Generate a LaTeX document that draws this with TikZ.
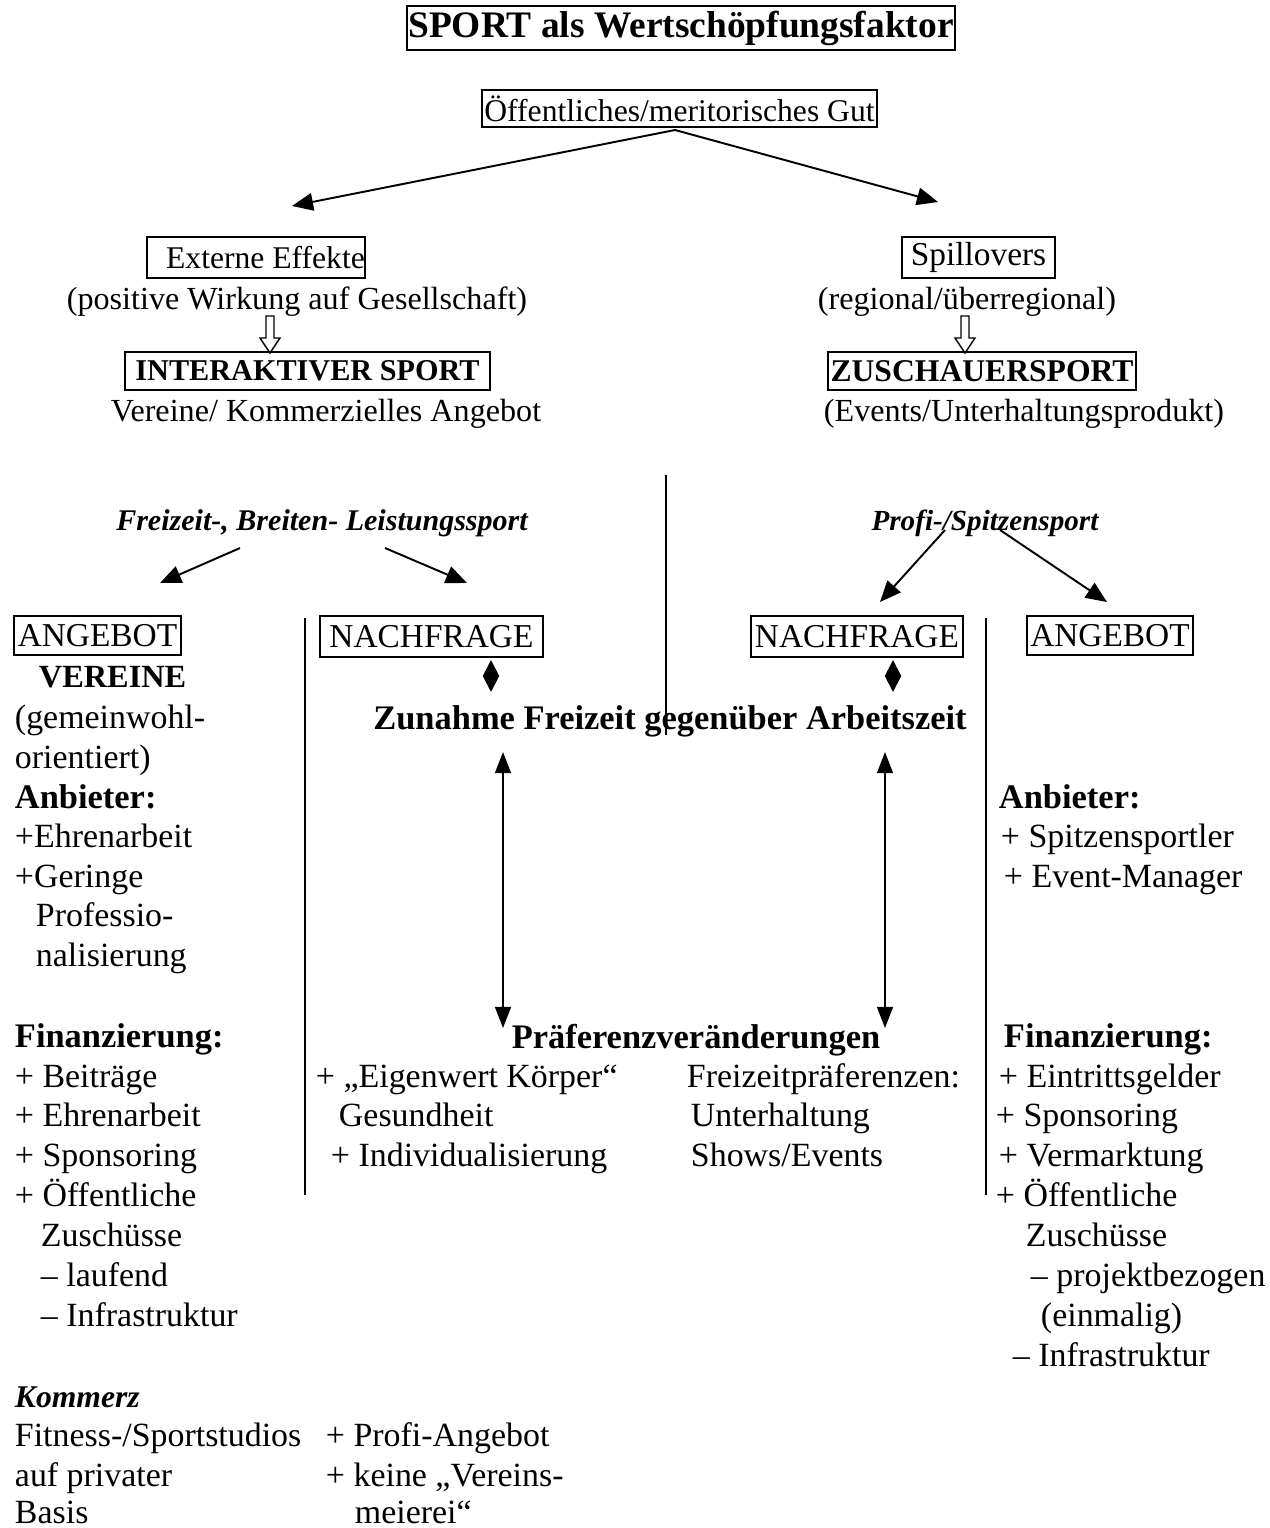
\documentclass[tikz,border=0pt]{standalone}
\usepackage{fontspec}
\setmainfont{Liberation Serif}
\usetikzlibrary{arrows.meta}
\newcommand\nsz{\fontsize{19.3}{23}\selectfont}
\newcommand\ssz{\fontsize{18.3}{22}\selectfont}
\newcommand\hsz{\fontsize{19.6}{23}\selectfont}
\tikzset{
  txt/.style={anchor=base west, inner sep=0pt, font=\nsz},
  ctxt/.style={txt, anchor=base, font=\ssz},
  hd/.style={txt, font=\hsz\bfseries},
  bx/.style={draw, line width=1.3pt, inner sep=0pt},
  tri/.style={-{Triangle[length=12pt,width=10pt]}},
  dtri/.style={{Triangle[length=12pt,width=9pt]}-{Triangle[length=12pt,width=9pt]}},
  kite/.style={{Triangle[length=9pt,width=9pt]}-{Triangle[length=9pt,width=9pt]}}
}

\begin{document}
\begin{tikzpicture}[x=0.02cm, y=-0.02cm, line width=1.1pt]
\tikzset{
  hollow/.pic={\draw[line width=0.8pt] (-4,0) -- (4,0) -- (4,22) -- (10,22) -- (0,37) -- (-10,22) -- (-4,22) -- cycle;}
}
\useasboundingbox (0,0) rectangle (1270,1528);

% top
\node[bx, minimum width=10.96cm, minimum height=0.88cm, font=\fontsize{21.3}{24}\selectfont\bfseries] (title) at (681,28) {SPORT als Wertschöpfungsfaktor};
\node[bx, minimum width=7.9cm, minimum height=0.74cm, font=\fontsize{18}{21}\selectfont] (gut) at (679.5,108.5) {Öffentliches/meritorisches Gut};

\coordinate (peak) at (675,130);
\coordinate (extin) at (292,206);
\coordinate (spillin) at (938,202);
\draw[tri] (peak) -- (extin);
\draw[tri] (peak) -- (spillin);

% left branch
\node[bx, minimum width=4.36cm, minimum height=0.82cm, font=\fontsize{18}{21}\selectfont] (ext) at (256,257.5) {\hspace{0.6em}Externe Effekte};
\node[ctxt] (extsub) at (297,309) {(positive Wirkung auf Gesellschaft)};
\pic at (270,316) {hollow};
\node[bx, minimum width=7.3cm, minimum height=0.76cm, font=\fontsize{17.2}{21}\selectfont\bfseries] (inter) at (307.5,371) {INTERAKTIVER SPORT\hspace{1.1em}};
\node[ctxt] (intersub) at (326,421) {Vereine/ Kommerzielles Angebot};

% right branch
\node[bx, minimum width=3.06cm, minimum height=0.82cm, font=\fontsize{19}{22}\selectfont] (spill) at (978.5,257.5) {Spillovers};
\node[ctxt] (spillsub) at (967,309) {(regional/überregional)};
\pic at (965,316) {hollow};
\node[bx, minimum width=6.16cm, minimum height=0.76cm, font=\fontsize{18}{21}\selectfont\bfseries] (zusch) at (982,371) {ZUSCHAUERSPORT};
\node[ctxt] (zuschsub) at (1024,421) {(Events/Unterhaltungsprodukt)};

% divider
\coordinate (midtop) at (666,475);
\coordinate (midbot) at (666,735);
\draw (midtop) -- (midbot);

% sport types
\node[ctxt, font=\fontsize{17.1}{21}\selectfont\bfseries\itshape] (breit) at (322,530) {Freizeit-, Breiten- Leistungssport};
\coordinate (b1) at (240,548);
\coordinate (b1e) at (160,583);
\coordinate (b2) at (385,548);
\coordinate (b2e) at (467,583);
\draw[tri] (b1) -- (b1e);
\draw[tri] (b2) -- (b2e);

\node[ctxt, font=\fontsize{16.6}{21}\selectfont\bfseries\itshape] (profi) at (985,530) {Profi-/Spitzensport};
\coordinate (p1) at (945,530);
\coordinate (p1e) at (880,602);
\coordinate (p2) at (1000,530);
\coordinate (p2e) at (1107,602);
\draw[tri] (p1) -- (p1e);
\draw[tri] (p2) -- (p2e);

% boxes row
\node[bx, minimum width=3.34cm, minimum height=0.78cm, font=\fontsize{19}{22}\selectfont] (angl) at (97.5,635.5) {ANGEBOT};
\node[bx, minimum width=4.46cm, minimum height=0.82cm, font=\fontsize{19}{22}\selectfont] (nachl) at (431.5,636.5) {NACHFRAGE\hspace{0.6em}};
\node[bx, minimum width=4.24cm, minimum height=0.82cm, font=\fontsize{19}{22}\selectfont] (nachr) at (857,636.5) {NACHFRAGE};
\node[bx, minimum width=3.32cm, minimum height=0.78cm, font=\fontsize{19}{22}\selectfont] (angr) at (1110,635.5) {ANGEBOT};

\coordinate (vl1) at (305,618);
\coordinate (vl2) at (305,1195);
\coordinate (vr1) at (986,618);
\coordinate (vr2) at (986,1195);
\draw (vl1) -- (vl2);
\draw (vr1) -- (vr2);

% centre
\coordinate (k1) at (491,660);
\coordinate (k1e) at (491,692);
\coordinate (k2) at (893,660);
\coordinate (k2e) at (893,692);
\draw[kite] (k1) -- (k1e);
\draw[kite] (k2) -- (k2e);

\node[ctxt, font=\hsz\bfseries] (zunahme) at (670,729) {Zunahme Freizeit gegenüber Arbeitszeit};

\coordinate (d1) at (503,752);
\coordinate (d1e) at (503,1028);
\coordinate (d2) at (885,752);
\coordinate (d2e) at (885,1028);
\draw[dtri] (d1) -- (d1e);
\draw[dtri] (d2) -- (d2e);

\node[ctxt, font=\hsz\bfseries] (praef) at (696,1048) {Präferenzveränderungen};

\node[txt] (m1) at (315,1087) {+ „Eigenwert Körper“};
\node[txt] (m2) at (338,1126) {Gesundheit};
\node[txt] (m3) at (330,1166) {+ Individualisierung};
\node[txt] (m4) at (686,1087) {Freizeitpräferenzen:};
\node[txt] (m5) at (690,1126) {Unterhaltung};
\node[txt] (m6) at (690,1166) {Shows/Events};

% left column
\node[hd, font=\fontsize{18.4}{22}\selectfont\bfseries] (vereine) at (38,687) {VEREINE};
\node[txt] (l1) at (14,728) {(gemeinwohl-};
\node[txt] (l2) at (14,768) {orientiert)};
\node[hd] (anbl) at (14,808) {Anbieter:};
\node[txt] (l3) at (14,847) {+Ehrenarbeit};
\node[txt] (l4) at (14,887) {+Geringe};
\node[txt] (l5) at (35,926) {Professio-};
\node[txt] (l6) at (35,966) {nalisierung};
\node[hd] (finl) at (14,1047) {Finanzierung:};
\node[txt] (l7) at (14,1087) {+ Beiträge};
\node[txt] (l8) at (14,1126) {+ Ehrenarbeit};
\node[txt] (l9) at (14,1166) {+ Sponsoring};
\node[txt] (l10) at (14,1206) {+ Öffentliche};
\node[txt] (l11) at (40,1246) {Zuschüsse};
\node[txt] (l12) at (40,1286) {– laufend};
\node[txt] (l13) at (40,1326) {– Infrastruktur};

% kommerz
\node[hd, font=\fontsize{18}{21}\selectfont\bfseries\itshape] (komm) at (14,1407) {Kommerz};
\node[txt] (c1) at (14,1446) {Fitness-/Sportstudios};
\node[txt] (c2) at (14,1486) {auf privater};
\node[txt] (c3) at (14,1523) {Basis};
\node[txt] (c4) at (325,1446) {+ Profi-Angebot};
\node[txt] (c5) at (325,1486) {+ keine „Vereins-};
\node[txt] (c6) at (354,1523) {meierei“};

% right column
\node[hd] (anbr) at (998,808) {Anbieter:};
\node[txt] (r1) at (1000,847) {+ Spitzensportler};
\node[txt] (r2) at (1003,887) {+ Event-Manager};
\node[hd] (finr) at (1003,1047) {Finanzierung:};
\node[txt] (r3) at (998,1087) {+ Eintrittsgelder};
\node[txt] (r4) at (995,1126) {+ Sponsoring};
\node[txt] (r5) at (998,1166) {+ Vermarktung};
\node[txt] (r6) at (995,1206) {+ Öffentliche};
\node[txt] (r7) at (1025,1246) {Zuschüsse};
\node[txt] (r8) at (1030,1286) {– projektbezogen};
\node[txt] (r9) at (1040,1326) {(einmalig)};
\node[txt] (r10) at (1012,1366) {– Infrastruktur};
\end{tikzpicture}
\end{document}
